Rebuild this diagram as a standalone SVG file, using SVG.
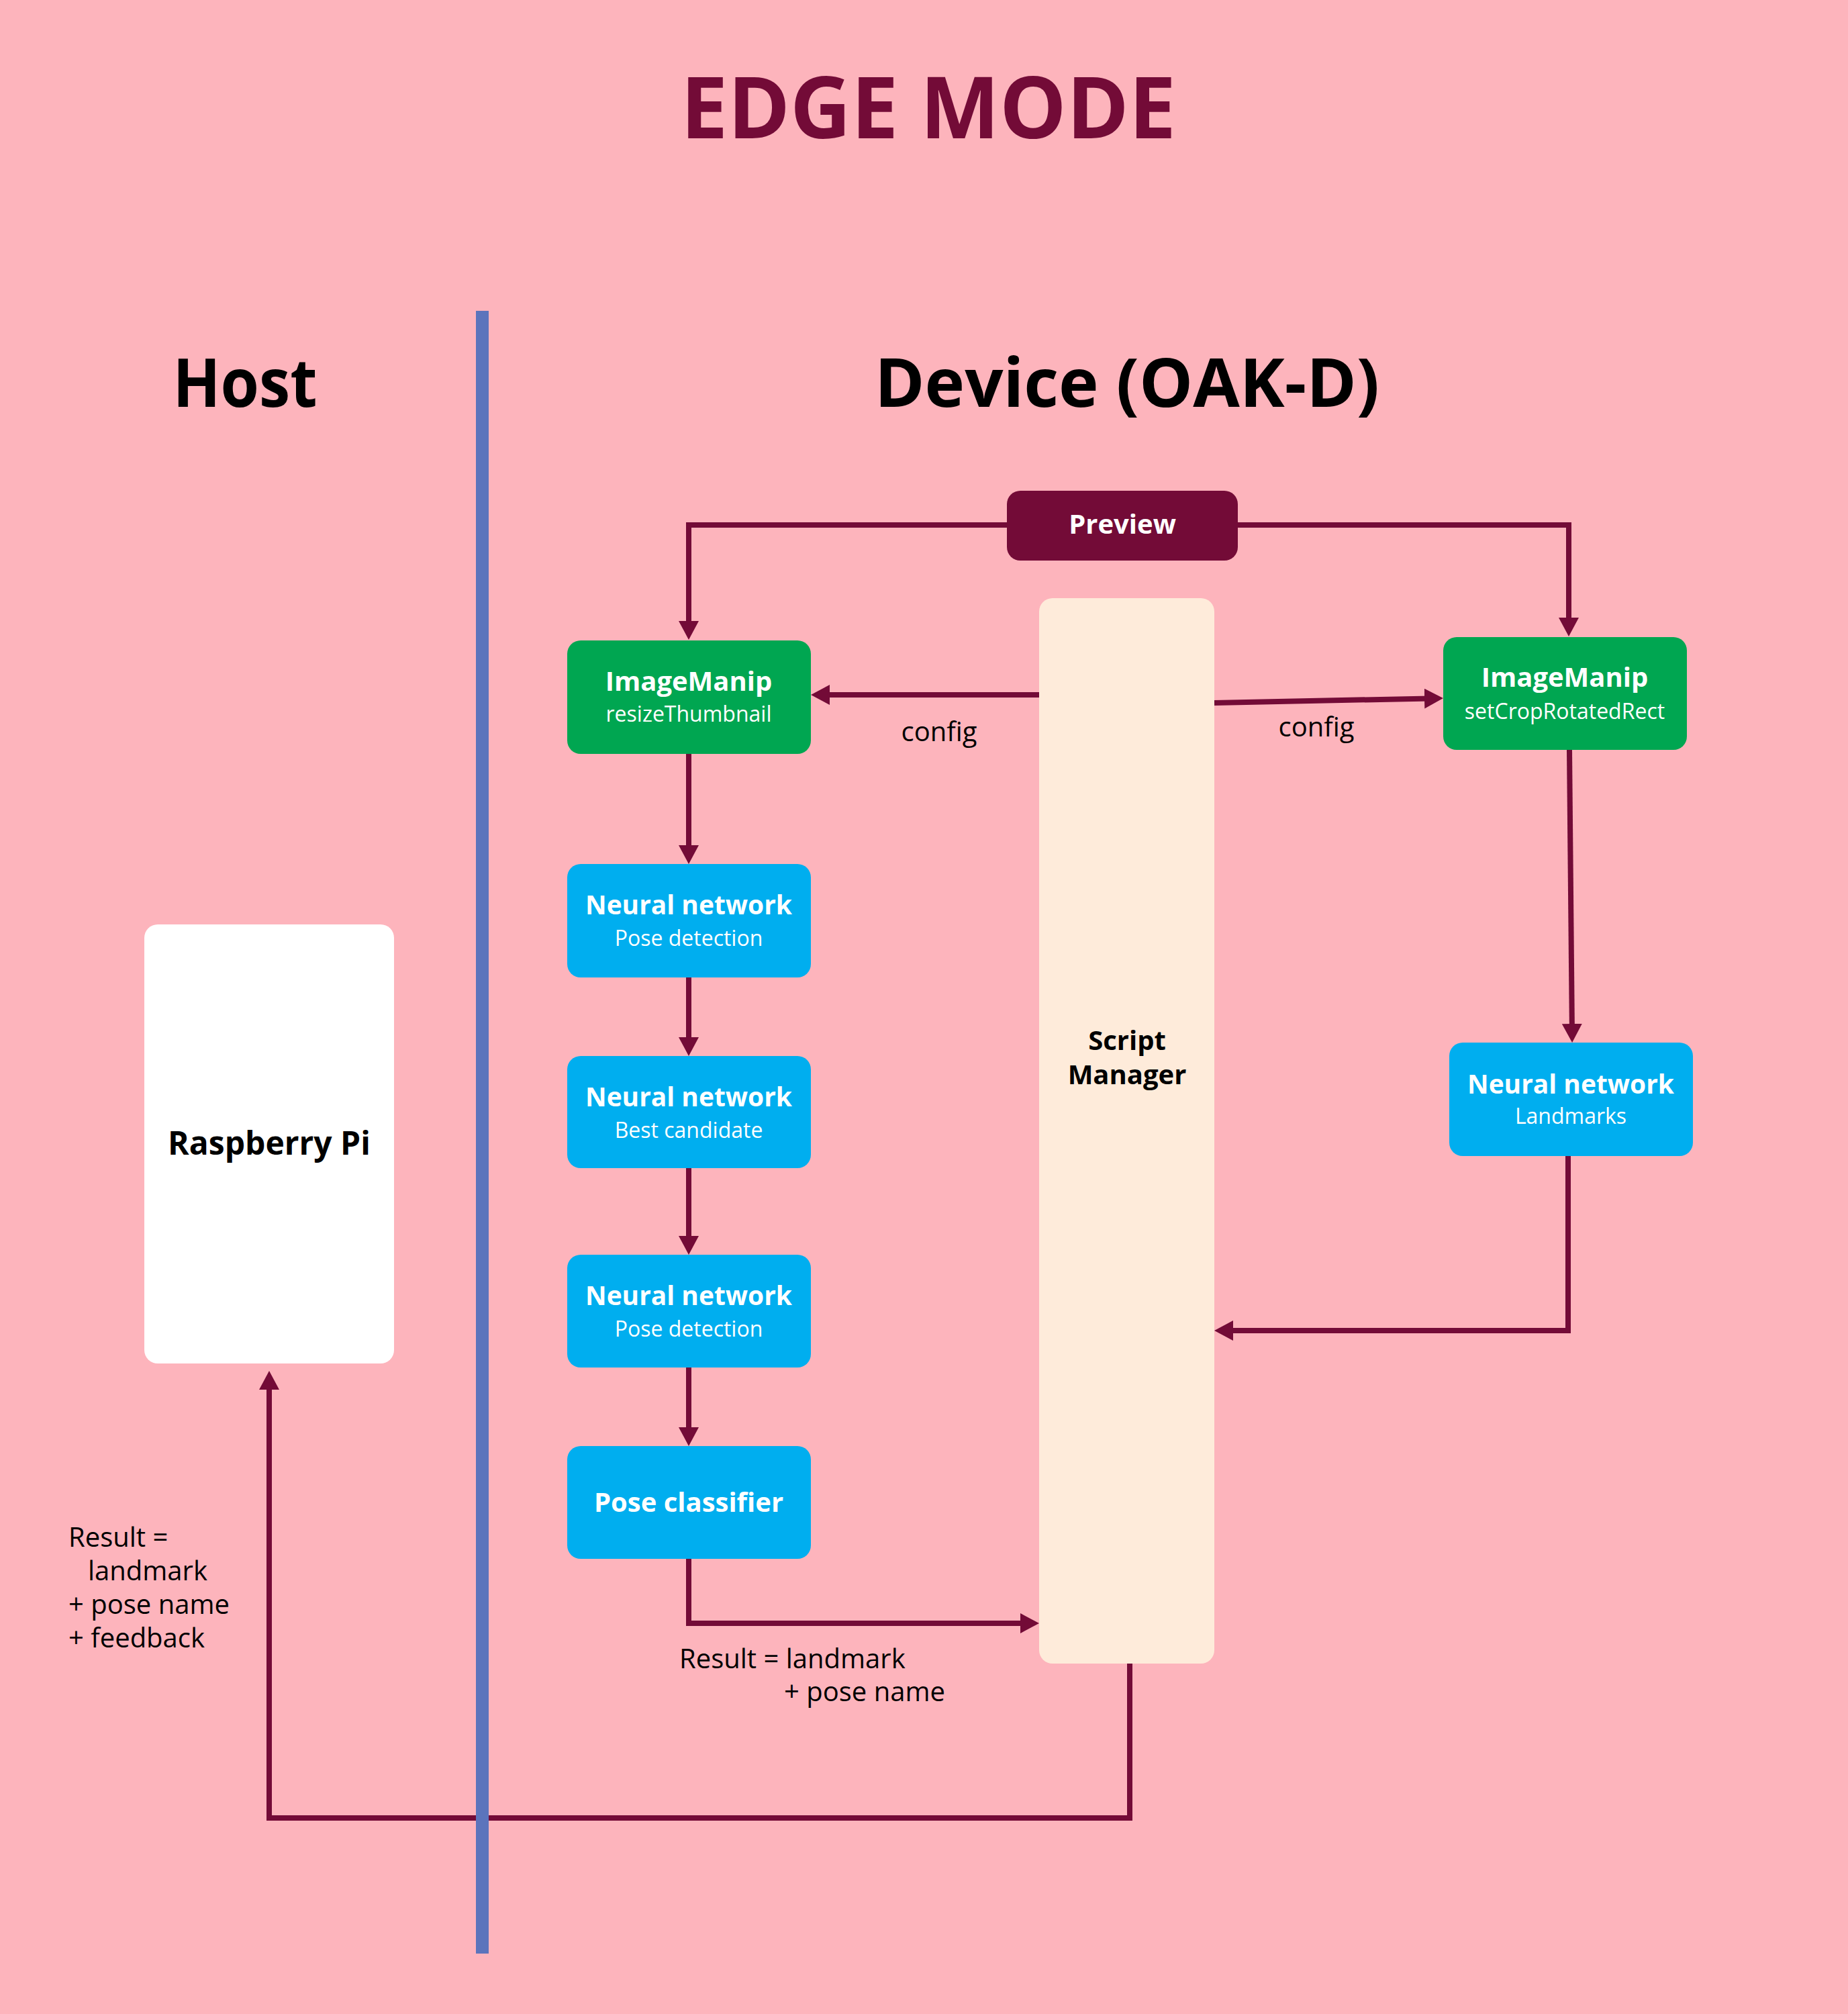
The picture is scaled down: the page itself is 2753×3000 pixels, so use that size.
<svg xmlns="http://www.w3.org/2000/svg" width="2753" height="3000" viewBox="0 0 2753 3000">
<defs>
<style>
text{font-family:"Open Sans","Liberation Sans",sans-serif}
.b{font-weight:700}
.h{font-size:101px;fill:#000;font-weight:700;text-anchor:middle}
.nt{font-size:40px;fill:#fff;font-weight:700;text-anchor:middle}
.ns{font-size:32px;fill:#fff;text-anchor:middle}
.lbl{font-size:40px;fill:#000}
.green{fill:#00A651}
.cyan{fill:#00AEEF}
.conn{fill:none;stroke:#730B37;stroke-width:8}
</style>
<marker id="ah" markerUnits="userSpaceOnUse" markerWidth="30" markerHeight="30" viewBox="0 0 30 30" refX="8" refY="15" orient="auto">
<path d="M0,0 L28,15 L0,30 z" fill="#730B37"/>
</marker>
</defs>
<rect x="0" y="0" width="2753" height="3000" fill="#FDB4BC"/>
<text x="1383" y="206" font-size="127" class="b" fill="#730B37" text-anchor="middle" textLength="738" lengthAdjust="spacingAndGlyphs">EDGE MODE</text>
<text x="365" y="606" class="h" textLength="215" lengthAdjust="spacingAndGlyphs">Host</text>
<text x="1679" y="606" class="h" textLength="752" lengthAdjust="spacingAndGlyphs">Device (OAK-D)</text>

<g id="connectors">
<path class="conn" marker-end="url(#ah)" d="M1500,782 H1026 V933"/>
<path class="conn" marker-end="url(#ah)" d="M1844,782 H2337 V928"/>
<path class="conn" marker-end="url(#ah)" d="M1548,1035 H1228"/>
<path class="conn" marker-end="url(#ah)" d="M1809,1047 L2130,1040.4"/>
<path class="conn" marker-end="url(#ah)" d="M1026,1123 V1267"/>
<path class="conn" marker-end="url(#ah)" d="M1026,1456 V1553"/>
<path class="conn" marker-end="url(#ah)" d="M1026,1740 V1849"/>
<path class="conn" marker-end="url(#ah)" d="M1026,2037 V2134"/>
<path class="conn" marker-end="url(#ah)" d="M1026,2322 V2418 H1528"/>
<path class="conn" marker-end="url(#ah)" d="M2338,1117 L2341.9,1533"/>
<path class="conn" marker-end="url(#ah)" d="M2336,1722 V1982 H1829"/>
<path class="conn" marker-end="url(#ah)" d="M1683,2478 V2708 H401 V2062"/>
</g>

<rect id="divider" x="709" y="463" width="19" height="2447" fill="#5B74BC"/>

<g id="preview">
<rect x="1500" y="731" width="344" height="104" rx="20" fill="#730B37"/>
<text x="1672" y="795" class="nt">Preview</text>
</g>

<g id="script-manager">
<rect x="1548" y="891" width="261" height="1587" rx="20" fill="#FEEBDA"/>
<text x="1679" y="1564" class="lbl b" text-anchor="middle">Script</text>
<text x="1679" y="1615" class="lbl b" text-anchor="middle">Manager</text>
</g>

<g id="imagemanip-resize">
<rect x="845" y="954" width="363" height="169" rx="20" class="green"/>
<text x="1026" y="1029" class="nt">ImageManip</text>
<text x="1026" y="1075" class="ns">resizeThumbnail</text>
</g>

<g id="imagemanip-crop">
<rect x="2150" y="949" width="363" height="168" rx="20" class="green"/>
<text x="2331" y="1023" class="nt">ImageManip</text>
<text x="2331" y="1071" class="ns">setCropRotatedRect</text>
</g>

<g id="nn-pose-detection-1">
<rect x="845" y="1287" width="363" height="169" rx="20" class="cyan"/>
<text x="1026" y="1362" class="nt" textLength="308" lengthAdjust="spacingAndGlyphs">Neural network</text>
<text x="1026" y="1409" class="ns">Pose detection</text>
</g>

<g id="nn-best-candidate">
<rect x="845" y="1573" width="363" height="167" rx="20" class="cyan"/>
<text x="1026" y="1648" class="nt" textLength="308" lengthAdjust="spacingAndGlyphs">Neural network</text>
<text x="1026" y="1695" class="ns">Best candidate</text>
</g>

<g id="nn-pose-detection-2">
<rect x="845" y="1869" width="363" height="168" rx="20" class="cyan"/>
<text x="1026" y="1944" class="nt" textLength="308" lengthAdjust="spacingAndGlyphs">Neural network</text>
<text x="1026" y="1991" class="ns">Pose detection</text>
</g>

<g id="pose-classifier">
<rect x="845" y="2154" width="363" height="168" rx="20" class="cyan"/>
<text x="1026" y="2252" class="nt">Pose classifier</text>
</g>

<g id="nn-landmarks">
<rect x="2159" y="1553" width="363" height="169" rx="20" class="cyan"/>
<text x="2340" y="1629" class="nt" textLength="308" lengthAdjust="spacingAndGlyphs">Neural network</text>
<text x="2340" y="1674" class="ns">Landmarks</text>
</g>

<g id="raspberry-pi">
<rect x="215" y="1377" width="372" height="654" rx="20" fill="#FFFFFF"/>
<text x="401" y="1720" font-size="48" class="b" fill="#000" text-anchor="middle">Raspberry Pi</text>
</g>

<g id="labels">
<text x="1399" y="1104" class="lbl" text-anchor="middle">config</text>
<text x="1961" y="1097" class="lbl" text-anchor="middle">config</text>
<text x="1012" y="2485" class="lbl">Result = landmark</text>
<text x="1168" y="2534" class="lbl">+ pose name</text>
<text x="102" y="2304" class="lbl">Result =</text>
<text x="131" y="2354" class="lbl">landmark</text>
<text x="102" y="2404" class="lbl">+ pose name</text>
<text x="102" y="2454" class="lbl">+ feedback</text>
</g>
</svg>
